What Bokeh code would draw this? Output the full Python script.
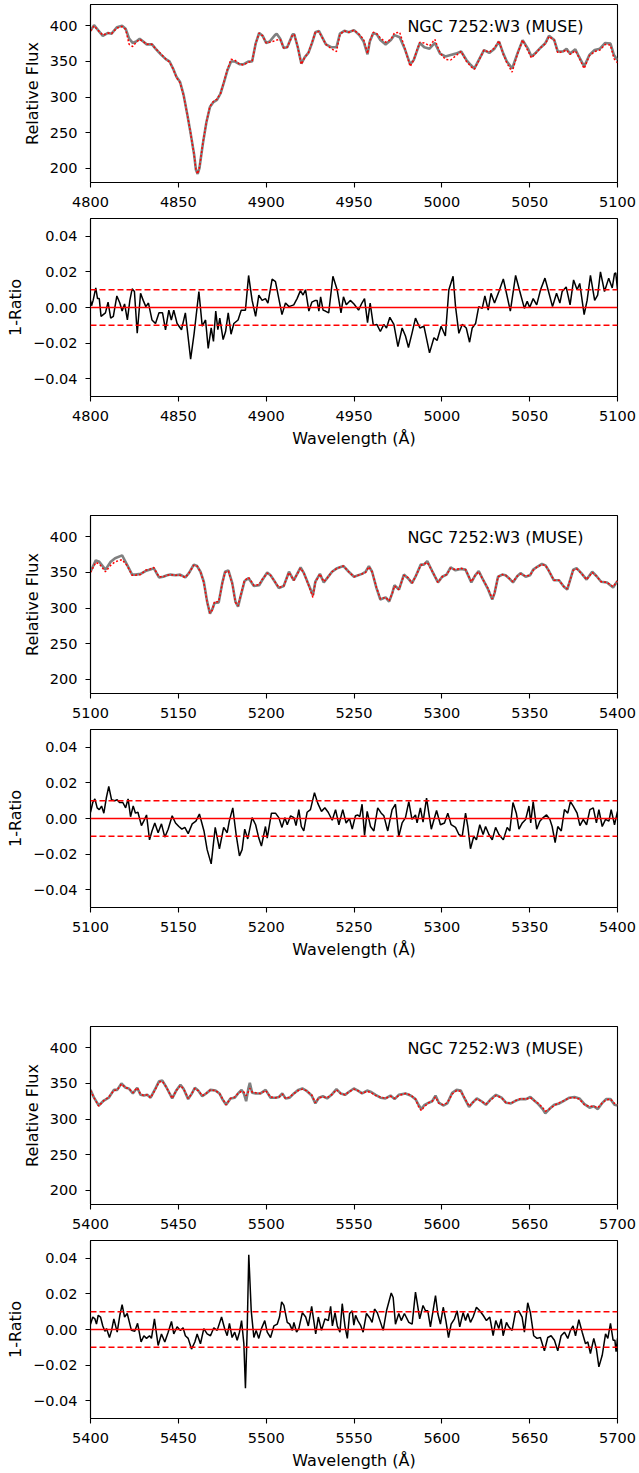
from bokeh.plotting import figure
from bokeh.layouts import column
from bokeh.models import Range1d, FixedTicker, Span, Label, CustomJSTickFormatter
from bokeh.embed import file_html
from bokeh.resources import INLINE

FONT = "DejaVu Sans"

# ---------------- Panel 1: 4800-5100 ----------------
wl1 = [4800, 4802, 4805, 4807, 4810, 4812, 4815, 4818, 4820, 4822, 4824, 4826, 4828, 4830, 4832,
       4835, 4837, 4840, 4843, 4845, 4847, 4849, 4851, 4853, 4855, 4857, 4859, 4860, 4861, 4862,
       4864, 4866, 4868, 4870, 4872, 4874, 4876, 4878, 4880, 4882, 4885, 4887, 4890, 4892, 4894,
       4896, 4898, 4900, 4902, 4905, 4906, 4908, 4910, 4912, 4915, 4916, 4918, 4920, 4922, 4924,
       4926, 4928, 4930, 4934, 4937, 4940, 4942, 4944.5, 4947, 4950, 4953, 4955.5, 4957.7, 4959,
       4961, 4963, 4965, 4968, 4971, 4973, 4976, 4979, 4982, 4984, 4986, 4987.5, 4990, 4993, 4996,
       4999, 5002, 5005, 5008, 5011, 5014, 5016.5, 5018.5, 5021, 5024, 5027, 5030, 5032.5, 5035,
       5037, 5040, 5043, 5046, 5049, 5051, 5053, 5056.5, 5059, 5061, 5064, 5066, 5069, 5071, 5073,
       5076, 5078, 5081, 5084, 5087, 5090, 5093, 5096, 5098, 5100]
model1 = [393, 401, 392, 386, 390, 389, 398, 400, 396, 382, 376, 378, 382, 378, 374,
          374, 368, 360, 353, 350, 340, 328, 321, 303, 277, 249, 219, 198, 192, 200,
          235, 265, 286, 293, 296, 305, 321, 338, 350, 350, 346, 346, 350, 350, 375,
          390, 386, 376, 378, 387, 389, 382, 369, 370, 388, 388, 370, 347, 356, 362,
          375, 391, 393, 374, 370, 370, 389, 393, 391, 394, 387, 378, 360, 378,
          390, 388, 380, 374, 380, 387, 384, 367, 346, 352, 366, 376, 370, 368, 376,
          361, 357, 359, 361, 364, 352, 345, 340, 352, 366, 362, 368, 378, 361,
          350, 340, 361, 380, 368, 357, 361, 370, 376, 386, 380, 364, 364, 368, 361,
          367, 357, 343, 359, 366, 368, 376, 375, 359, 352]
obs1 = [393, 400, 392, 387, 390, 389, 397, 399, 395, 374, 371, 377, 381, 378, 374,
        374, 368, 361, 353, 349, 340, 327, 320, 302, 277, 249, 219, 198, 192, 201,
        236, 265, 287, 294, 297, 305, 322, 339, 353, 352, 346, 345, 349, 350, 375,
        390, 386, 376, 377, 379, 380, 381, 369, 370, 387, 388, 370, 346, 356, 362,
        376, 391, 392, 374, 368, 364, 388, 393, 391, 394, 388, 381, 361, 379,
        391, 389, 383, 377, 381, 390, 391, 368, 343, 352, 367, 377, 376, 372, 381,
        362, 353, 352, 358, 364, 350, 343, 339, 351, 366, 363, 369, 379, 360,
        348, 335, 360, 380, 365, 355, 360, 370, 375, 385, 380, 362, 364, 366, 360,
        365, 356, 340, 358, 364, 366, 374, 373, 354, 348]

wr1 = [4800, 4800.6, 4801.5, 4803, 4804, 4805, 4806, 4808.5, 4810, 4811.5, 4813, 4815, 4816.7,
       4818, 4819.4, 4821, 4822.4, 4823.7, 4825, 4826.6, 4828.5, 4830, 4831.5, 4833, 4835, 4837,
       4839, 4841, 4842.7, 4844.6, 4846, 4847.4, 4849.3, 4851.8, 4854, 4857, 4859, 4861.7, 4863.6,
       4865.5, 4867, 4868.7, 4870, 4871.3, 4872.5, 4873.6, 4875.5, 4876.9, 4878.4, 4880, 4881.6,
       4884, 4885.8, 4888.2, 4890, 4892, 4894, 4895.8, 4897.7, 4899.6, 4901, 4903.4, 4905.3, 4907,
       4909, 4911, 4913, 4915.7, 4917.6, 4919.5, 4921, 4922.4, 4924.3, 4926, 4928, 4929, 4930,
       4931, 4932.4, 4933.7, 4935.6, 4938, 4940.4, 4942.6, 4944, 4945.6, 4947.9, 4950, 4952.6,
       4954.5, 4956, 4957.7, 4959.2, 4961, 4963, 4965, 4967, 4968.5, 4970.4, 4972.7, 4975, 4977.4,
       4979.3, 4981, 4983, 4985, 4987.5, 4989.8, 4993, 4995.5, 4997.3, 4999.6, 5002, 5004, 5006.4,
       5007.8, 5009.7, 5011.6, 5013.9, 5015.8, 5017.3, 5019.2, 5021, 5023, 5024.5, 5026.4, 5028,
       5030, 5032.5, 5035, 5036.8, 5039, 5042, 5044.4, 5047, 5048.6, 5050, 5052, 5054, 5056.2,
       5058.7, 5061, 5063, 5065.3, 5067.2, 5068.5, 5070.8, 5073, 5075, 5077, 5078.5, 5081, 5082.7,
       5084.6, 5087, 5088.7, 5090.3, 5092.6, 5095, 5097, 5098.3, 5099, 5100]
ratio1 = [0.004, 0.001, 0.004, 0.011, 0.005, 0.005, -0.005, -0.003, 0.003, -0.006, -0.005, 0.0065, 0.0025,
          -0.002, 0.002, -0.007, 0.004, 0.0105, 0.009, -0.0145, 0.008, 0.004, 0.0005, 0.0025, -0.007, -0.009,
          -0.003, -0.003, -0.0125, -0.0015, -0.007, -0.0015, -0.009, -0.0125, -0.003, -0.029, -0.0145, 0.009, -0.0105,
          -0.007, -0.023, -0.0115, -0.019, -0.002, -0.0125, -0.006, -0.018, -0.0135, -0.003, -0.015, -0.009,
          -0.007, -0.0015, -0.0015, 0.018, 0.004, -0.005, 0.007, 0.004, 0.005, 0.0025, 0.016, 0.0145, 0.006,
          -0.004, 0.0025, 0.0005, 0.0015, 0.005, 0.0095, 0.007, 0.010, -0.002, 0.003, 0.004, 0.004, -0.002,
          0.006, -0.0015, -0.002, -0.003, 0.0175, 0.010, -0.003, 0.006, 0.0015, 0.004, 0.002, -0.0015,
          0.0025, 0.005, -0.0085, 0.0025, -0.010, -0.0095, -0.0135, -0.0095, -0.0115, -0.0055, -0.0095, -0.022, -0.0115,
          -0.016, -0.0225, -0.0145, -0.006, -0.0115, -0.0105, -0.0255, -0.017, -0.0185, -0.0105, -0.016, 0.010, 0.0175,
          0.0005, -0.0145, -0.0095, -0.0115, -0.0195, -0.0115, -0.009, 0.0005, -0.0005, 0.0065, -0.0015, 0.008,
          0.0025, 0.009, 0.016, 0.008, -0.002, 0.018, 0.009, -0.0005, 0.0035, 0.0, 0.005, 0.0015, 0.010,
          0.0165, 0.008, 0.0005, 0.008, 0.0025, 0.009, 0.0115, 0.0015, 0.0155, 0.010, 0.0135, -0.004, 0.004,
          0.018, 0.004, 0.007, 0.020, 0.009, 0.0165, 0.011, 0.019, 0.0195, 0.010]

# ---------------- Panel 2: 5100-5400 ----------------
wl2 = [5100, 5103, 5105, 5108.5, 5111.5, 5114, 5118, 5121, 5123.7, 5125.6, 5128.5, 5131.3, 5134, 5136,
       5139, 5141.4, 5143.6, 5145.5, 5148.4, 5151, 5154, 5156, 5158.8, 5160.7, 5162.6, 5164.5, 5166.4,
       5168, 5169.3, 5170.6, 5173, 5175, 5176.6, 5178.5, 5180.7, 5182.5, 5184, 5185.4, 5187.7, 5190,
       5193, 5196, 5197.7, 5200.6, 5202.5, 5204.4, 5207.2, 5210, 5213, 5215.7, 5219.6, 5221.5, 5224.3,
       5226.6, 5228, 5230.6, 5232.8, 5234.7, 5237.5, 5240.4, 5244, 5247, 5250, 5254.6, 5256.6, 5258.5,
       5260.3, 5262.8, 5265, 5268, 5270, 5271.8, 5273, 5275.6, 5278.4, 5280.7, 5283, 5285, 5288, 5289.8,
       5291.7, 5294.5, 5297.8, 5300.2, 5302.7, 5305, 5307.8, 5310.7, 5313.5, 5316.8, 5319, 5321, 5323,
       5326, 5328.7, 5330, 5332, 5334.4, 5336.3, 5338.2, 5340.5, 5343, 5344.8, 5347.7, 5350.2, 5352,
       5354.3, 5357, 5359, 5361, 5363.8, 5366.7, 5369.5, 5371.4, 5374.8, 5376.7, 5379.4, 5382.4, 5385.6,
       5388, 5390.7, 5394, 5397.5, 5400]
model2 = [351, 367, 365, 354, 365, 370, 374, 360, 347, 347, 348, 352, 354, 356,
          343, 344, 346, 347, 346, 347, 343, 349, 361, 359, 351, 337, 309,
          292, 298, 307, 308, 335, 351, 353, 335, 309, 302, 316, 338, 342,
          331, 332, 339, 350, 346, 339, 328, 331, 351, 339, 357, 349, 332,
          318, 337, 348, 336, 342, 351, 356, 359, 351, 344, 348, 351, 359,
          351, 328, 312, 315, 309, 321, 332, 326, 347, 342, 335, 344, 361, 361,
          366, 352, 336, 344, 347, 357, 353, 355, 354, 336, 346, 352, 342,
          328, 312, 321, 344, 347, 346, 342, 336, 345, 349, 344, 346, 354,
          358, 362, 360, 352, 339, 339, 330, 326, 354, 356, 349, 340, 351,
          345, 337, 336, 329, 338]
obs2 = [350, 364, 362, 351, 360, 365, 368, 359, 346, 346, 347, 353, 355, 357,
        344, 344, 346, 347, 346, 346, 343, 349, 360, 359, 351, 336, 308,
        293, 297, 309, 309, 334, 350, 352, 334, 308, 303, 317, 339, 343,
        332, 333, 340, 349, 346, 339, 329, 331, 350, 339, 356, 349, 331,
        315, 336, 348, 337, 342, 351, 356, 359, 351, 344, 348, 350, 358,
        351, 329, 313, 315, 310, 321, 331, 326, 346, 343, 335, 344, 360, 362,
        364, 352, 336, 344, 347, 356, 354, 356, 354, 337, 346, 351, 342,
        329, 313, 321, 344, 347, 346, 342, 337, 345, 348, 345, 346, 353,
        358, 361, 360, 352, 339, 339, 330, 327, 353, 355, 349, 340, 350,
        345, 337, 336, 330, 338]

wr2 = [5100, 5101.3, 5102.5, 5103.8, 5105, 5106.3, 5107.6, 5109, 5110.4, 5112, 5113.8, 5115.2, 5116.5,
       5118.4, 5120, 5121.4, 5122.8, 5124.3, 5125.6, 5127, 5129, 5130.3, 5131.9, 5133.6, 5135, 5136.6,
       5138.5, 5140.4, 5142.3, 5144.2, 5146.5, 5148.4, 5150.3, 5152, 5153.7, 5155.6, 5157.9, 5160, 5162,
       5164.6, 5166.4, 5168.7, 5171, 5173.4, 5175.8, 5177.8, 5179, 5181, 5182.9, 5184.8, 5186.3, 5187.8,
       5189.5, 5192, 5194, 5195.8, 5197.3, 5199.6, 5200.6, 5203, 5205.3, 5207.2, 5209, 5210.6, 5212,
       5213.9, 5215.8, 5217, 5218.6, 5220, 5221.4, 5223.3, 5225.2, 5227.5, 5229.4, 5231.5, 5233.4,
       5235.3, 5237.6, 5239.5, 5241.4, 5243.6, 5245.5, 5247.4, 5249, 5250.8, 5252.2, 5253.3, 5254.6,
       5256, 5257.5, 5259.4, 5261.3, 5263.5, 5265.5, 5267, 5269.2, 5271.7, 5273.6, 5275.5, 5277.4,
       5279.3, 5281.2, 5283, 5285, 5285.9, 5287.8, 5289.3, 5291.3, 5292.6, 5294, 5297, 5299.2, 5301.5,
       5303.4, 5305.3, 5307.8, 5309.7, 5311.6, 5313.5, 5314.8, 5316.3, 5318.2, 5319.7, 5321.6, 5323.5,
       5324.9, 5326.8, 5328.7, 5330.6, 5332.5, 5335, 5337.2, 5338.7, 5340.5, 5342.4, 5343.9, 5345.8,
       5347.7, 5349.6, 5350.6, 5352, 5354, 5355.8, 5357.7, 5359.6, 5361.5, 5362.8, 5364.5, 5366, 5368,
       5369.8, 5371.7, 5373.2, 5374.8, 5377, 5378.6, 5380.5, 5382.4, 5384.3, 5386.2, 5388, 5389.4,
       5391.3, 5393.2, 5395.1, 5396.4, 5398.3, 5400]
ratio2 = [0.0035, 0.009, 0.011, 0.006, 0.005, 0.007, 0.003, 0.0115, 0.018, 0.0105, 0.010, 0.0105, 0.009,
          0.009, 0.006, 0.011, 0.001, 0.007, 0.003, 0.0035, -0.004, -0.0015, 0.002, -0.012, -0.007, -0.0025,
          -0.008, -0.003, -0.0105, -0.006, 0.0015, -0.0025, -0.0045, -0.006, -0.005, -0.0085, -0.003, -0.0015, 0.0025,
          -0.007, -0.0175, -0.0255, -0.005, -0.017, -0.005, -0.008, -0.0015, 0.006, -0.009, -0.021, -0.0175, -0.006,
          -0.0115, 0.0005, -0.0035, -0.011, -0.0155, -0.0045, -0.011, 0.003, 0.003, 0.0005, -0.005, 0.0005, -0.0035,
          0.0015, 0.0005, -0.004, 0.005, -0.0045, -0.007, 0.0035, 0.005, 0.0145, 0.0085, 0.004, 0.006,
          0.0035, -0.001, 0.005, -0.0035, 0.005, -0.0025, 0.0, -0.006, 0.0015, 0.002, 0.001, 0.008,
          -0.0095, 0.004, -0.0045, -0.007, 0.006, 0.003, 0.0015, -0.007, 0.005, 0.008, -0.010, -0.0025,
          0.0005, 0.0095, -0.0005, 0.002, -0.0025, 0.006, -0.002, 0.0115, 0.003, -0.006, 0.0045, -0.0035, -0.0025,
          0.003, -0.0035, -0.005, -0.009, -0.010, 0.003, -0.0045, -0.017, -0.010, -0.012, -0.0035, -0.009,
          -0.0045, -0.009, -0.012, -0.005, -0.009, -0.012, -0.005, -0.007, 0.009, 0.003, -0.006, -0.0025,
          -0.0005, 0.007, -0.0025, 0.0095, -0.006, -0.0015, 0.0005, 0.002, -0.0005, -0.0045, -0.0135, -0.0045, -0.007,
          0.005, 0.003, 0.0095, 0.007, 0.003, -0.004, -0.0005, -0.0035, 0.005, 0.006, -0.0025, 0.005,
          -0.0045, -0.0005, -0.0015, 0.005, -0.0035, 0.004]

# ---------------- Panel 3: 5400-5700 ----------------
wl3 = [5400, 5402, 5404.7, 5407.6, 5410.4, 5413.3, 5415.2, 5417.6, 5420, 5421.8, 5424.1, 5426.6, 5428.5,
       5430.4, 5432.3, 5434.2, 5437, 5439, 5440.9, 5443.1, 5446.5, 5448.8, 5451.2, 5453.1, 5455.6, 5457.5,
       5459.4, 5461.3, 5463.6, 5465.8, 5468.3, 5471.2, 5473.4, 5475.3, 5477.2, 5479.7, 5482.1, 5484, 5486,
       5487.3, 5488.6, 5489.8, 5490.7, 5492, 5494, 5496.8, 5499.7, 5502.5, 5505.4, 5507.3, 5509.2, 5511,
       5513.4, 5515.8, 5518.3, 5520.6, 5522.8, 5525.9, 5528, 5530, 5532.3, 5534.7, 5537.2, 5540, 5542.4,
       5544.9, 5547, 5549.9, 5552.2, 5554.6, 5557.5, 5559.8, 5562.3, 5565.1, 5567.9, 5570.8, 5573.1,
       5575.5, 5579.3, 5582.2, 5585, 5587, 5588.3, 5590.2, 5592.6, 5594.5, 5596.4, 5598.3, 5600.8,
       5603.1, 5605.9, 5608.4, 5610.8, 5612.7, 5615.5, 5617.5, 5619.9, 5622.6, 5625.1, 5627.5, 5630.8,
       5634, 5636.5, 5639.3, 5642.2, 5645, 5647.9, 5650.4, 5652.6, 5654.9, 5657.4, 5658.9, 5661.2, 5664,
       5666.9, 5669.7, 5672.6, 5675.5, 5678.3, 5681.2, 5684.1, 5686.5, 5688.8, 5691.1, 5693.5, 5696,
       5698.3, 5700]
model3 = [341, 330, 319, 326, 330, 341, 341, 350, 344, 343, 336, 344, 334,
          333, 334, 330, 343, 353, 354, 345, 329, 340, 348, 342, 328, 335,
          344, 340, 332, 336, 341, 340, 336, 327, 320, 329, 330, 336, 341,
          336, 325, 342, 351, 337, 336, 336, 341, 330, 330, 331, 336, 329,
          330, 336, 341, 343, 340, 333, 322, 330, 332, 329, 334, 342, 336,
          334, 338, 343, 340, 336, 340, 338, 334, 330, 329, 333, 328,
          334, 336, 333, 328, 319, 314, 320, 323, 325, 333, 323, 319,
          322, 337, 341, 340, 330, 317, 323, 329, 325, 320, 327, 334,
          330, 323, 322, 326, 328, 328, 331, 326, 321, 314, 308, 314, 320,
          322, 326, 330, 331, 329, 321, 316, 318, 314, 322, 328, 328,
          320, 319]
obs3 = [340, 330, 318, 326, 331, 340, 341, 349, 344, 343, 337, 344, 335,
        333, 334, 330, 342, 352, 353, 345, 329, 340, 347, 342, 329, 335,
        343, 340, 333, 336, 341, 340, 336, 328, 320, 329, 331, 336, 339,
        338, 333, 338, 343, 338, 337, 336, 340, 331, 330, 331, 335, 329,
        331, 336, 340, 342, 340, 334, 323, 330, 331, 330, 334, 341, 336,
        334, 338, 342, 340, 336, 339, 337, 333, 331, 329, 332, 329,
        333, 336, 334, 328, 316, 312, 318, 323, 325, 331, 322, 320,
        323, 335, 340, 339, 331, 318, 323, 328, 325, 321, 326, 333,
        330, 323, 322, 326, 329, 328, 330, 326, 322, 316, 311, 314, 319,
        323, 326, 330, 330, 328, 320, 318, 318, 316, 322, 327, 328,
        322, 320]

wr3 = [5400, 5401.3, 5402.5, 5403.4, 5404.4, 5405.7, 5407, 5408.2, 5409.1, 5410.8, 5412, 5413.3, 5415.2,
       5416.7, 5418, 5419.4, 5420.9, 5423.3, 5425.2, 5426.8, 5428.8, 5430.4, 5431.9, 5433.6, 5434.7,
       5436.4, 5438.5, 5440.4, 5442.3, 5444.2, 5446.1, 5447.4, 5449.3, 5451.2, 5452.7, 5454, 5455.6,
       5457.5, 5459.4, 5460.7, 5462.6, 5464.5, 5466.4, 5468.3, 5470.2, 5472.1, 5474.6, 5476.5, 5477.8,
       5479.1, 5480.6, 5482.1, 5483.5, 5484.8, 5486, 5487.3, 5488.2, 5489.2, 5490.1, 5491.5, 5493,
       5494.3, 5495.8, 5497.3, 5499.2, 5500.6, 5502.5, 5504.4, 5506.3, 5507.6, 5508.8, 5510.1, 5512,
       5513.4, 5514.9, 5515.8, 5517.3, 5518.6, 5520.6, 5522.5, 5524, 5525.9, 5528.2, 5529.7, 5531.5,
       5533.5, 5535.4, 5536.7, 5537.7, 5539.2, 5540.5, 5542, 5543.3, 5544.9, 5546.2, 5547.5, 5549,
       5549.9, 5550.9, 5552.2, 5553.7, 5555.2, 5557.1, 5559, 5560.3, 5561.7, 5563.2, 5565.1, 5566.6,
       5568.5, 5571.2, 5572.3, 5573.6, 5575.5, 5576.9, 5578.7, 5581.2, 5583.1, 5585, 5585.9, 5587.4,
       5589.3, 5590.7, 5592, 5593.5, 5595, 5596.4, 5597.7, 5599.2, 5600.8, 5602.3, 5603.8, 5605.3,
       5607.2, 5608.7, 5610.2, 5612.1, 5613.5, 5614.8, 5616.3, 5617.8, 5619.7, 5621.6, 5623.5, 5625.4,
       5627.3, 5629.2, 5630.7, 5632.4, 5633.8, 5634.9, 5636.8, 5638.1, 5640, 5641.9, 5643.8, 5645.7,
       5647, 5648.9, 5650.4, 5652.3, 5654.2, 5656.1, 5658.4, 5660.3, 5662.2, 5664.1, 5666, 5667.9,
       5669.8, 5671.7, 5673.2, 5674.7, 5676.1, 5678, 5679.9, 5681.8, 5683.1, 5684.6, 5686.5, 5688,
       5689.4, 5691.3, 5693.2, 5694.5, 5696, 5697.5, 5698.5, 5699.2, 5700]
ratio3 = [0.003, 0.007, 0.006, 0.003, 0.008, 0.007, 0.002, -0.001, 0.0005, -0.0045, -0.0005, 0.006, -0.0015,
          0.008, 0.014, 0.007, 0.009, -0.0005, -0.001, 0.0035, -0.007, -0.0035, -0.005, -0.0035, -0.005,
          0.006, -0.009, -0.0025, -0.007, -0.0015, 0.0045, -0.0025, 0.0015, -0.0005, 0.001, -0.0035, -0.005,
          -0.011, -0.007, -0.0025, -0.008, 0.0005, -0.0025, -0.0035, 0.001, -0.0005, 0.007, 0.0, -0.0035,
          0.0035, -0.0045, -0.0015, -0.006, -0.0015, 0.005, -0.008, -0.033, 0.0, 0.042, 0.0105, -0.0045,
          -0.0005, -0.005, 0.0005, 0.005, -0.0015, -0.0045, 0.002, 0.003, 0.007, 0.0155, 0.0135, 0.004,
          0.003, -0.0005, 0.004, -0.0015, 0.0005, 0.0095, 0.007, 0.002, 0.013, -0.0025, 0.007, -0.0005,
          0.006, 0.005, 0.013, 0.002, 0.0095, 0.002, -0.0015, 0.0145, 0.0015, -0.005, 0.009, 0.0105,
          0.0025, 0.008, 0.005, 0.0025, -0.0015, 0.009, 0.0065, 0.004, 0.0115, 0.0095, 0.004, -0.0005,
          0.0105, 0.0205, 0.018, 0.003, 0.009, 0.005, 0.009, 0.004, 0.003, 0.021, 0.0155, 0.006,
          0.0135, 0.0105, 0.0105, 0.0015, 0.0105, 0.019, 0.009, 0.003, 0.0125, 0.005, -0.0045, 0.003,
          0.006, 0.0105, 0.0015, 0.0095, 0.005, 0.009, 0.004, 0.007, 0.0125, 0.0105, 0.008, 0.005,
          0.007, -0.0035, 0.005, 0.0005, 0.006, -0.0035, 0.004, 0.0015, -0.0005, 0.0095, 0.0105, 0.007,
          -0.0015, 0.015, 0.0095, -0.0035, -0.005, -0.0045, -0.012, -0.0045, -0.0035, -0.006, -0.012, -0.0035,
          -0.0015, -0.005, -0.0005, 0.002, -0.0035, 0.0055, -0.0015, -0.008, -0.007, -0.0135, -0.005, -0.011,
          -0.021, -0.0145, -0.0025, -0.005, 0.0035, -0.006, -0.006, -0.0125, -0.005]

panels = [
    (wl1, model1, obs1, wr1, ratio1, (4800, 5100)),
    (wl2, model2, obs2, wr2, ratio2, (5100, 5400)),
    (wl3, model3, obs3, wr3, ratio3, (5400, 5700)),
]
x_ticks = [[4800, 4850, 4900, 4950, 5000, 5050, 5100],
           [5100, 5150, 5200, 5250, 5300, 5350, 5400],
           [5400, 5450, 5500, 5550, 5600, 5650, 5700]]
flux_ticks = [200, 250, 300, 350, 400]
ratio_ticks = [-0.04, -0.02, 0.0, 0.02, 0.04]
flux_range = (180, 430)
ratio_range = (-0.05, 0.05)
label_text = "NGC 7252:W3 (MUSE)"

W = 639


def pair(a, b):
    n = min(len(a), len(b))
    return list(a[:n]), list(b[:n])


def style(p, xt, yt, ylabel, xlabel=None, minus=False):
    p.xgrid.visible = False
    p.ygrid.visible = False
    p.outline_line_color = "black"
    p.outline_line_width = 1.1
    p.outline_line_alpha = 1
    for ax in (p.xaxis[0], p.yaxis[0]):
        ax.axis_line_color = "black"
        ax.axis_line_width = 1.1
        ax.major_tick_line_color = "black"
        ax.major_tick_line_width = 1.1
        ax.major_tick_out = 5
        ax.major_tick_in = 0
        ax.minor_tick_line_color = None
        ax.major_label_text_font = FONT
        ax.major_label_text_font_size = "14.5px"
        ax.major_label_text_color = "black"
        ax.axis_label_text_font = FONT
        ax.axis_label_text_font_size = "16px"
        ax.axis_label_text_font_style = "normal"
        ax.axis_label_text_color = "black"
    p.xaxis[0].ticker = FixedTicker(ticks=xt)
    p.yaxis[0].ticker = FixedTicker(ticks=yt)
    p.xaxis[0].major_label_standoff = 9
    p.yaxis[0].major_label_standoff = 8
    p.yaxis[0].axis_label = ylabel
    p.yaxis[0].axis_label_standoff = 5
    if xlabel:
        p.xaxis[0].axis_label = xlabel
        p.xaxis[0].axis_label_standoff = 5
    if minus:
        p.yaxis[0].formatter = CustomJSTickFormatter(
            code="return tick.toFixed(2).replace('-', '\u2212');")


figs = []
flux_borders = [(4, 32), (59, 32), (59, 32)]
ratio_borders = [(4, 60), (4, 60), (4, 55)]
FH = 178
for i, (wl, mod, obs, wr, rat, xr) in enumerate(panels):
    t, b = flux_borders[i]
    p = figure(width=W, height=t + FH + b, x_range=Range1d(*xr), y_range=Range1d(*flux_range),
               output_backend="svg", toolbar_location=None,
               min_border_left=90, min_border_right=22, min_border_top=t, min_border_bottom=b)
    xs, ys = pair(wl, mod)
    p.line(xs, ys, line_color="#808080", line_width=2.6)
    xs, ys = pair(wl, obs)
    p.line(xs, ys, line_color="#ff0000", line_width=1.5, line_dash="2 2")
    p.add_layout(Label(x=xr[0] + 180.4, y=399, text=label_text, text_font=FONT,
                       text_font_size="16px", text_color="black", text_align="left",
                       text_baseline="alphabetic"))
    style(p, x_ticks[i], flux_ticks, "Relative Flux")
    figs.append(p)

    t, b = ratio_borders[i]
    q = figure(width=W, height=t + FH + b, x_range=Range1d(*xr), y_range=Range1d(*ratio_range),
               output_backend="svg", toolbar_location=None,
               min_border_left=90, min_border_right=22, min_border_top=t, min_border_bottom=b)
    xs, ys = pair(wr, rat)
    q.line(xs, ys, line_color="black", line_width=1.5)
    q.add_layout(Span(location=0.0, dimension="width", line_color="#ff0000", line_width=1.5))
    q.add_layout(Span(location=0.01, dimension="width", line_color="#ff0000", line_width=1.5,
                      line_dash="6 3"))
    q.add_layout(Span(location=-0.01, dimension="width", line_color="#ff0000", line_width=1.5,
                      line_dash="6 3"))
    style(q, x_ticks[i], ratio_ticks, "1-Ratio", xlabel="Wavelength (\u00c5)", minus=True)
    figs.append(q)

layout = column(*figs, spacing=0)
open("out.html", "w").write(file_html(layout, INLINE, title="NGC 7252:W3"))
